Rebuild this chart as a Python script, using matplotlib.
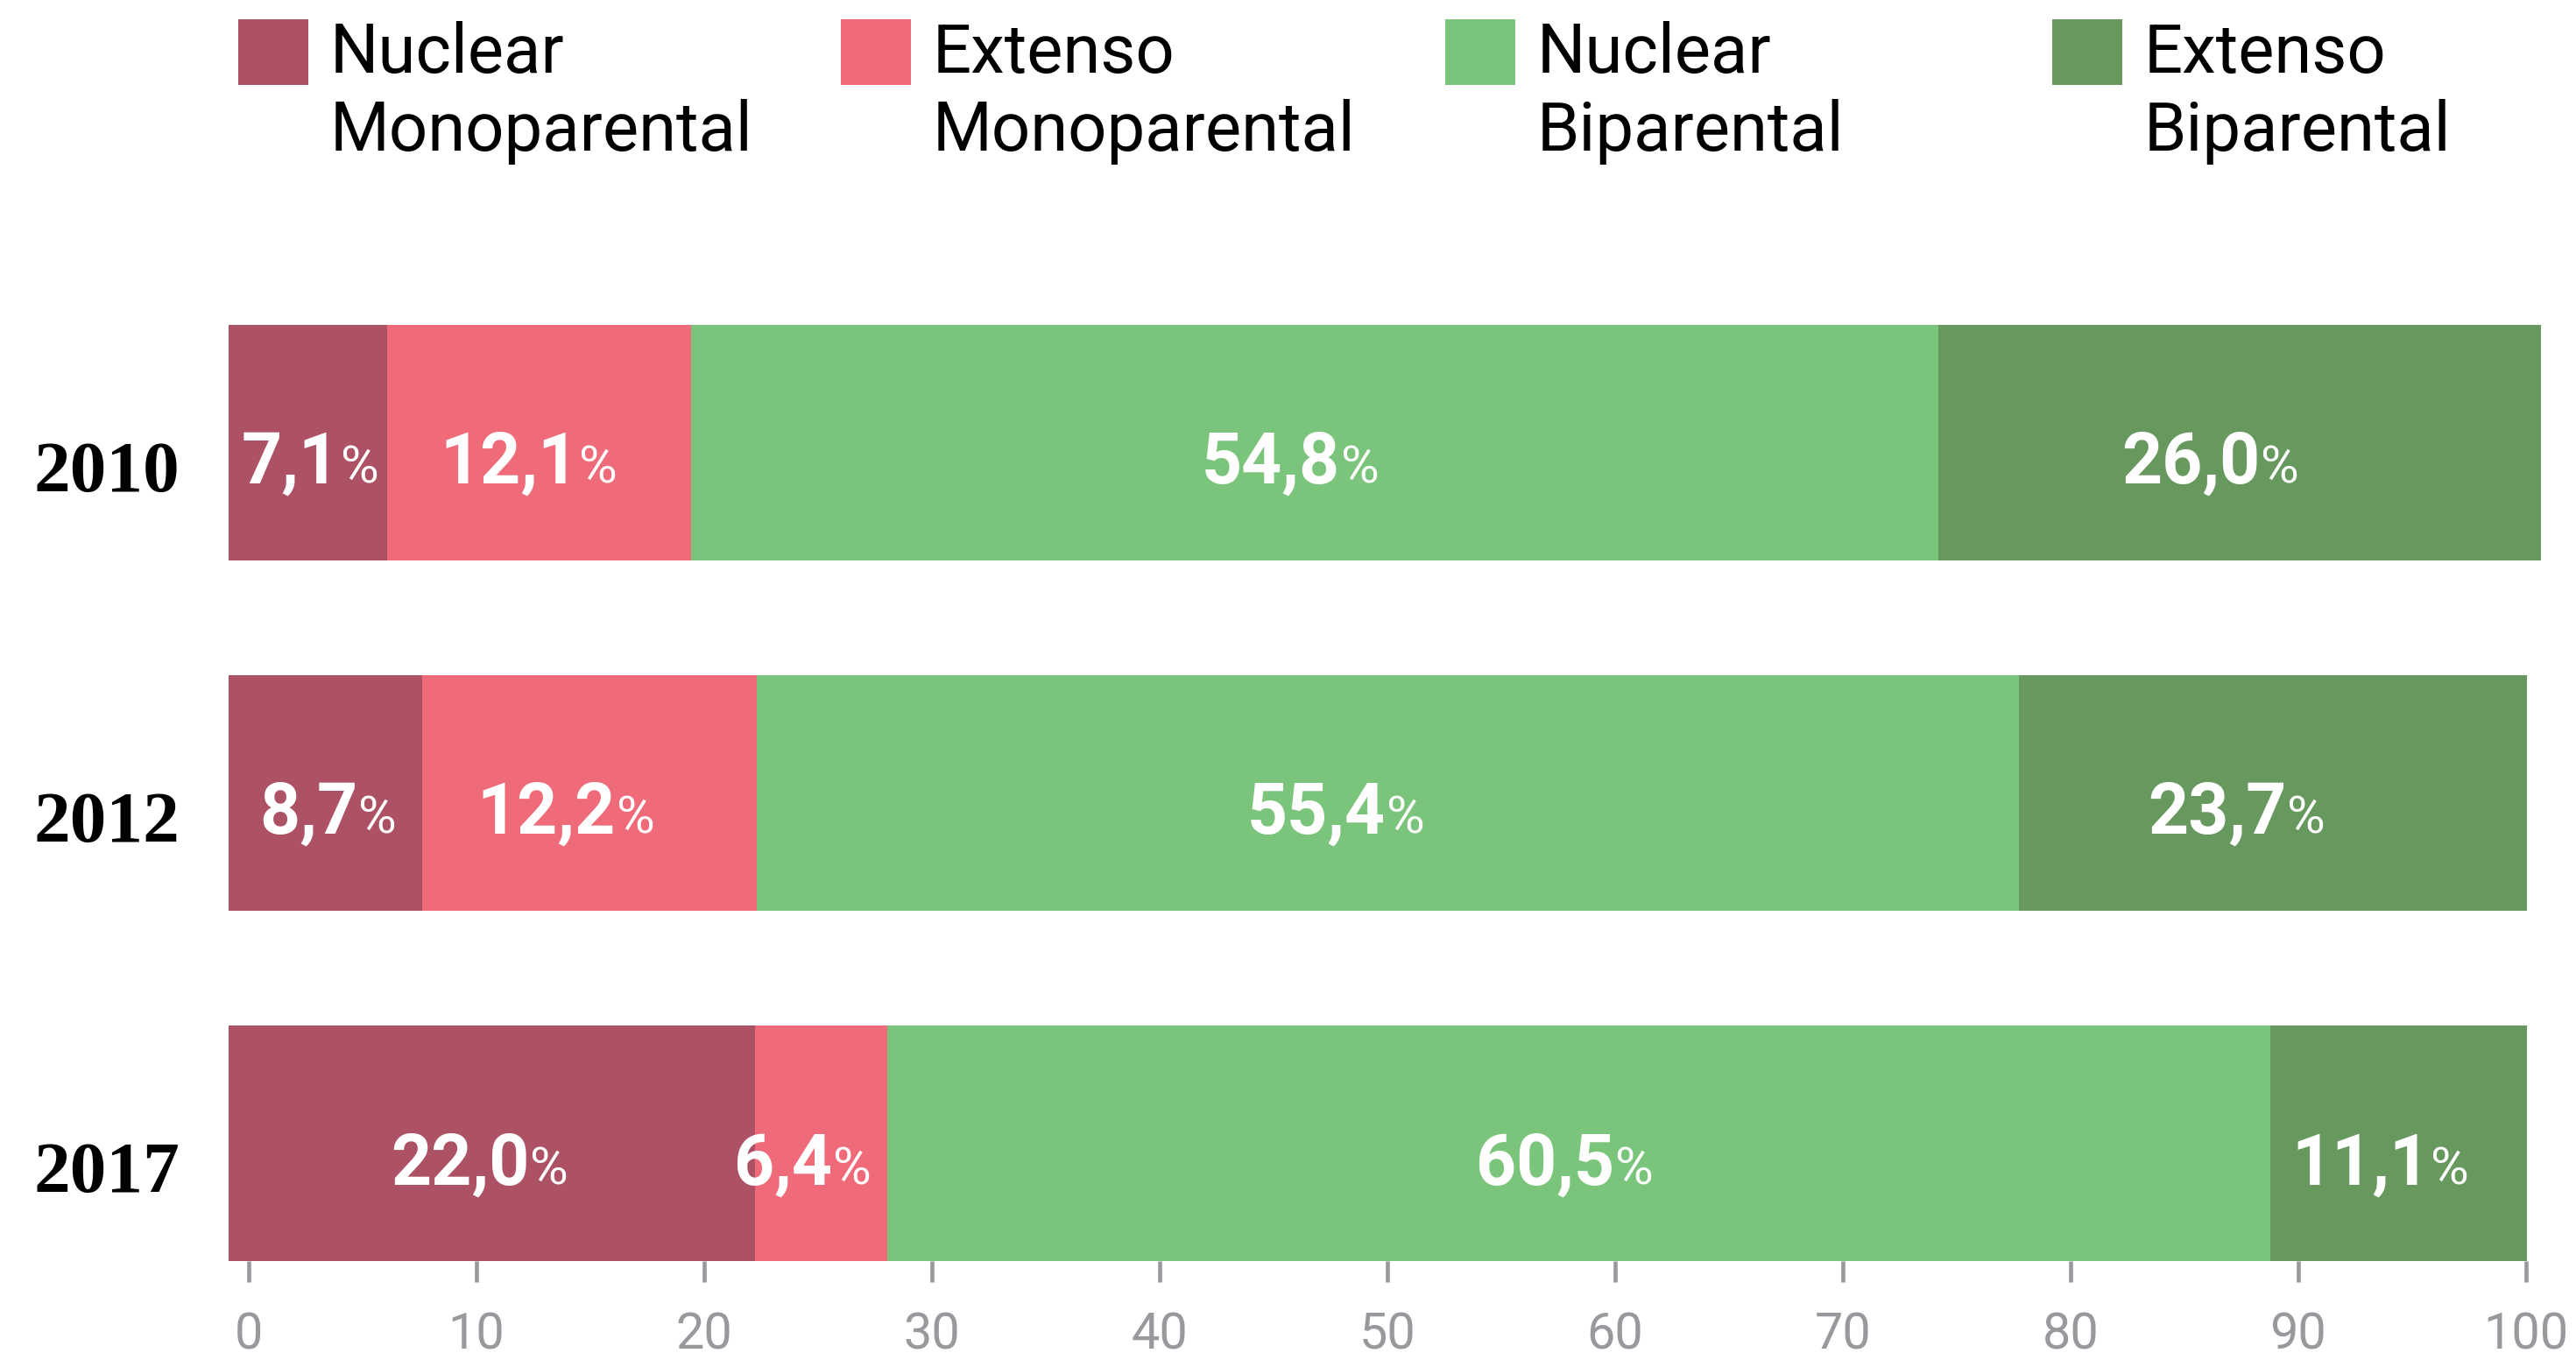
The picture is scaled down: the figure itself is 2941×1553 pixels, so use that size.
import matplotlib
matplotlib.use("Agg")
import matplotlib.pyplot as plt
import matplotlib.transforms as mtransforms
from matplotlib.patches import Rectangle
import numpy as np

plt.rcParams['font.family'] = ['Roboto', 'DejaVu Sans']

###############################
# Data
years = ['2010', '2012', '2017']
series = [('Nuclear', 'Monoparental'), ('Extenso', 'Monoparental'),
          ('Nuclear', 'Biparental'), ('Extenso', 'Biparental')]
colors = ['#ad5264', '#f06b79', '#7bc47b', '#67995e']

# printed shares (%)
nuc_mono = [7.1, 8.7, 22.0]
ext_mono = [12.1, 12.2, 6.4]
nuc_bip = [54.8, 55.4, 60.5]
ext_bip = [26.0, 23.7, 11.1]

# segment lengths as they are drawn in the original graphic
nuc_mono_bar = [6.95, 8.50, 23.12]
ext_mono_bar = [13.36, 14.69, 5.80]
nuc_bip_bar = [54.76, 55.41, 60.74]
ext_bip_bar = [26.45, 22.32, 11.24]

xticks = [0, 10, 20, 30, 40, 50, 60, 70, 80, 90, 100]
###############################

BAR_START = -0.88   # the original bars begin slightly left of zero
BAR_H = 0.672
GRAY = '#98999d'
W, H = 2941, 1553

shares = np.array([nuc_mono, ext_mono, nuc_bip, ext_bip])
bars = np.array([nuc_mono_bar, ext_mono_bar, nuc_bip_bar, ext_bip_bar])

fig = plt.figure(figsize=(W / 100, H / 100), dpi=100)
ax = fig.add_axes([260.6 / W, 113 / H, 2641.6 / W, 1069 / H])

ypos = np.arange(len(years))
bar_lefts = BAR_START + np.vstack([np.zeros(len(years)), np.cumsum(bars, axis=0)[:-1]])
for k in range(len(series)):
    ax.barh(ypos, bars[k], left=bar_lefts[k], height=BAR_H,
            color=colors[k], linewidth=0)

ax.set_xlim(-0.9, 100.7)
ax.set_ylim(len(years) - 1 + BAR_H / 2, -BAR_H / 2)
for s in ax.spines.values():
    s.set_visible(False)
ax.set_yticks([])
ax.set_xticks(xticks)
ax.set_xticklabels([str(t) for t in xticks])
ax.tick_params(axis='x', length=17.3, width=3.3, color=GRAY, pad=24,
               labelsize=41.5, labelcolor=GRAY)

renderer = fig.canvas.get_renderer()

# value labels, centred on the printed shares
share_cum = np.cumsum(shares, axis=0)
for k in range(len(series)):
    for i in range(len(years)):
        cx = BAR_START + share_cum[k, i] - shares[k, i] / 2
        num = f"{shares[k, i]:.1f}".replace('.', ',')
        t_num = ax.text(cx, ypos[i], num, fontsize=58, fontweight='bold',
                        color='white', ha='left', va='baseline')
        t_pct = ax.text(cx, ypos[i], '%', fontsize=43,
                        color='white', ha='left', va='baseline')
        w1 = t_num.get_window_extent(renderer).width
        w2 = t_pct.get_window_extent(renderer).width
        x0 = -(w1 + w2) / 2
        t_num.set_transform(mtransforms.offset_copy(ax.transData, fig=fig,
                                                    x=x0, y=-46.5, units='dots'))
        t_pct.set_transform(mtransforms.offset_copy(ax.transData, fig=fig,
                                                    x=x0 + w1 + 1, y=-46.5, units='dots'))

# year labels
for i, year in enumerate(years):
    ax.text(BAR_START, ypos[i], year, fontsize=60, fontweight='bold',
            family=['Liberation Serif', 'DejaVu Serif'], color='black',
            ha='right', va='baseline',
            transform=mtransforms.offset_copy(ax.transData, fig=fig,
                                              x=-56, y=-55.5, units='dots'))

# legend
sq_left = [272, 960, 1650, 2343]
for k, (l1, l2) in enumerate(series):
    fig.add_artist(Rectangle((sq_left[k] / W, (H - 97) / H), 80 / W, 75 / H,
                             transform=fig.transFigure, color=colors[k], lw=0))
    fig.text((sq_left[k] + 105) / W, (H - 83) / H, l1, fontsize=56,
             color='black', ha='left', va='baseline')
    fig.text((sq_left[k] + 105) / W, (H - 172) / H, l2, fontsize=56,
             color='black', ha='left', va='baseline')

fig.savefig('out.png', dpi=100, facecolor='white')
